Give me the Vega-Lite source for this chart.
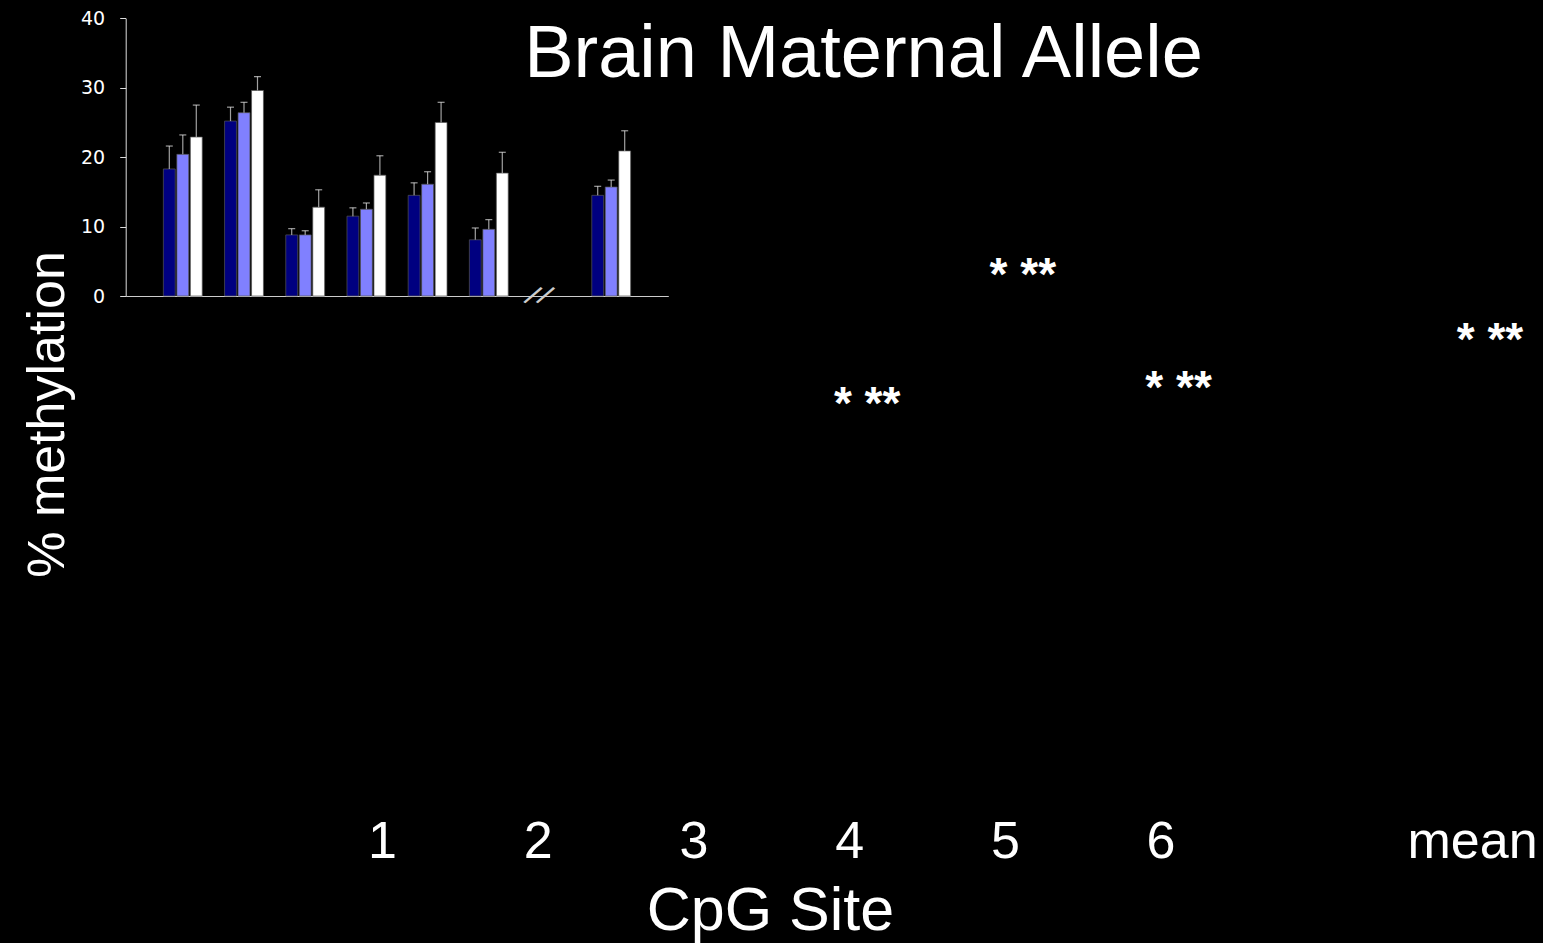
{
  "$schema": "https://vega.github.io/schema/vega-lite/v6.json",
  "width": 1543,
  "height": 943,
  "autosize": {"type": "none"},
  "padding": 0,
  "background": "#000000",
  "title": {
    "text": "Brain Maternal Allele",
    "color": "#ffffff",
    "font": "Liberation Sans",
    "fontSize": 74,
    "fontWeight": "normal",
    "anchor": "middle",
    "frame": "group",
    "baseline": "alphabetic",
    "offset": -78,
    "dx": 92,
    "dy": 73
  },
  "config": {"view": {"stroke": null}, "font": "Liberation Sans"},
  "datasets": {
    "bars": [
      {"site": "1", "series": "Series 1", "value": 18.3, "upper": 21.6},
      {"site": "1", "series": "Series 2", "value": 20.4, "upper": 23.2},
      {"site": "1", "series": "Series 3", "value": 22.9, "upper": 27.5},
      {"site": "2", "series": "Series 1", "value": 25.2, "upper": 27.2},
      {"site": "2", "series": "Series 2", "value": 26.4, "upper": 27.9},
      {"site": "2", "series": "Series 3", "value": 29.6, "upper": 31.6},
      {"site": "3", "series": "Series 1", "value": 8.8, "upper": 9.7},
      {"site": "3", "series": "Series 2", "value": 8.8, "upper": 9.4},
      {"site": "3", "series": "Series 3", "value": 12.8, "upper": 15.3},
      {"site": "4", "series": "Series 1", "value": 11.5, "upper": 12.7},
      {"site": "4", "series": "Series 2", "value": 12.5, "upper": 13.4},
      {"site": "4", "series": "Series 3", "value": 17.4, "upper": 20.2},
      {"site": "5", "series": "Series 1", "value": 14.5, "upper": 16.3},
      {"site": "5", "series": "Series 2", "value": 16.1, "upper": 17.9},
      {"site": "5", "series": "Series 3", "value": 25.0, "upper": 27.9},
      {"site": "6", "series": "Series 1", "value": 8.1, "upper": 9.8},
      {"site": "6", "series": "Series 2", "value": 9.6, "upper": 11.0},
      {"site": "6", "series": "Series 3", "value": 17.7, "upper": 20.7},
      {"site": "mean", "series": "Series 1", "value": 14.5, "upper": 15.8},
      {"site": "mean", "series": "Series 2", "value": 15.7, "upper": 16.7},
      {"site": "mean", "series": "Series 3", "value": 20.9, "upper": 23.8}
    ],
    "breaks": [
      {"site": "gap", "label": "/"}
    ],
    "stars": [
      {"site": "4", "label": "* **", "level": 19.9},
      {"site": "5", "label": "* **", "level": 27.9},
      {"site": "6", "label": "* **", "level": 20.9},
      {"site": "mean", "label": "* **", "level": 23.9}
    ]
  },
  "layer": [
    {
      "layer": [
        {
          "data": {"name": "bars"},
          "mark": {"type": "bar", "stroke": "#555555", "strokeWidth": 0.7},
          "encoding": {
            "x": {
              "field": "site",
              "type": "nominal",
              "sort": null,
              "scale": {
                "domain": ["1", "2", "3", "4", "5", "6", "gap", "mean"],
                "range": [125.7, 668.3],
                "paddingInner": 0.365,
                "paddingOuter": 0.6155
              },
              "axis": {
                "orient": "bottom",
                "offset": -647,
                "domain": true,
                "domainColor": "#cccccc",
                "domainWidth": 1.2,
                "ticks": false,
                "labels": false,
                "grid": false,
                "title": null
              }
            },
            "xOffset": {
              "field": "series",
              "type": "nominal",
              "scale": {"paddingInner": 0.12, "paddingOuter": 0}
            },
            "y": {
              "field": "value",
              "type": "quantitative",
              "scale": {"domain": [0, 40], "range": [296, 18.3], "nice": false, "zero": true},
              "axis": {
                "orient": "left",
                "offset": -125.7,
                "values": [0, 10, 20, 30, 40],
                "grid": false,
                "tickSize": 6,
                "tickColor": "#dddddd",
                "domainColor": "#dddddd",
                "labelColor": "#ffffff",
                "labelFont": "DejaVu Sans",
                "labelFontSize": 19,
                "labelPadding": 15,
                "title": "% methylation",
                "titleFont": "Liberation Sans",
                "titleFontSize": 52,
                "titleFontWeight": "normal",
                "titleColor": "#ffffff",
                "titleAngle": -90,
                "titleX": -62.4,
                "titleY": 414,
                "titleBaseline": "alphabetic",
                "titleAlign": "center"
              }
            },
            "color": {
              "field": "series",
              "type": "nominal",
              "scale": {"domain": ["Series 1", "Series 2", "Series 3"], "range": ["#000080", "#8080ff", "#ffffff"]},
              "legend": null
            }
          }
        },
        {
          "data": {"name": "bars"},
          "mark": {"type": "rule", "color": "#a0a0a0", "strokeWidth": 1.2},
          "encoding": {
            "x": {"field": "site", "type": "nominal"},
            "xOffset": {"field": "series", "type": "nominal"},
            "y": {"field": "value", "type": "quantitative"},
            "y2": {"field": "upper"}
          }
        },
        {
          "data": {"name": "bars"},
          "mark": {"type": "tick", "color": "#e0e0e0", "size": 7, "thickness": 1.2},
          "encoding": {
            "x": {"field": "site", "type": "nominal"},
            "xOffset": {"field": "series", "type": "nominal"},
            "y": {"field": "upper", "type": "quantitative"}
          }
        },
        {
          "data": {"name": "breaks"},
          "mark": {"type": "text", "color": "#cccccc", "font": "Liberation Sans", "fontSize": 30, "angle": 34, "align": "center", "baseline": "middle", "dx": -14.6, "dy": 10.5},
          "encoding": {
            "x": {"field": "site", "type": "nominal"},
            "y": {"datum": 0},
            "text": {"field": "label"}
          }
        },
        {
          "data": {"name": "breaks"},
          "mark": {"type": "text", "color": "#cccccc", "font": "Liberation Sans", "fontSize": 30, "angle": 34, "align": "center", "baseline": "middle", "dx": -4.3, "dy": 3.5},
          "encoding": {
            "x": {"field": "site", "type": "nominal"},
            "y": {"datum": 0},
            "text": {"field": "label"}
          }
        }
      ]
    },
    {
      "data": {"name": "stars"},
      "mark": {
        "type": "text",
        "font": "Liberation Sans",
        "fontWeight": "bold",
        "fontSize": 46,
        "color": "#ffffff",
        "align": "center",
        "baseline": "alphabetic",
        "dx": 18,
        "dy": 22
      },
      "encoding": {
        "x": {
          "field": "site",
          "type": "nominal",
          "sort": null,
          "scale": {
            "type": "point",
            "domain": ["1", "2", "3", "4", "5", "6", "gap", "mean"],
            "range": [382, 1472],
            "padding": 0
          },
          "axis": {
            "orient": "bottom",
            "offset": -100,
            "domain": false,
            "ticks": false,
            "tickSize": 0,
            "grid": false,
            "labelPadding": 14,
            "labelFont": "Liberation Sans",
            "labelFontSize": 52,
            "labelColor": "#ffffff",
            "labelBaseline": "alphabetic",
            "labelAngle": 0,
            "labelAlign": "center",
            "labelOverlap": false,
            "labelExpr": "datum.value == 'gap' ? '' : datum.value",
            "title": "CpG Site",
            "titleFont": "Liberation Sans",
            "titleFontSize": 61,
            "titleFontWeight": "normal",
            "titleColor": "#ffffff",
            "titleX": 770,
            "titleY": 86.3,
            "titleBaseline": "alphabetic",
            "titleAlign": "center"
          }
        },
        "y": {
          "field": "level",
          "type": "quantitative",
          "scale": {"domain": [0, 40], "range": [716.1, 74.1], "nice": false, "zero": true},
          "axis": null
        },
        "text": {"field": "label"}
      }
    }
  ],
  "resolve": {
    "scale": {"x": "independent", "y": "independent"},
    "axis": {"x": "independent", "y": "independent"}
  }
}
